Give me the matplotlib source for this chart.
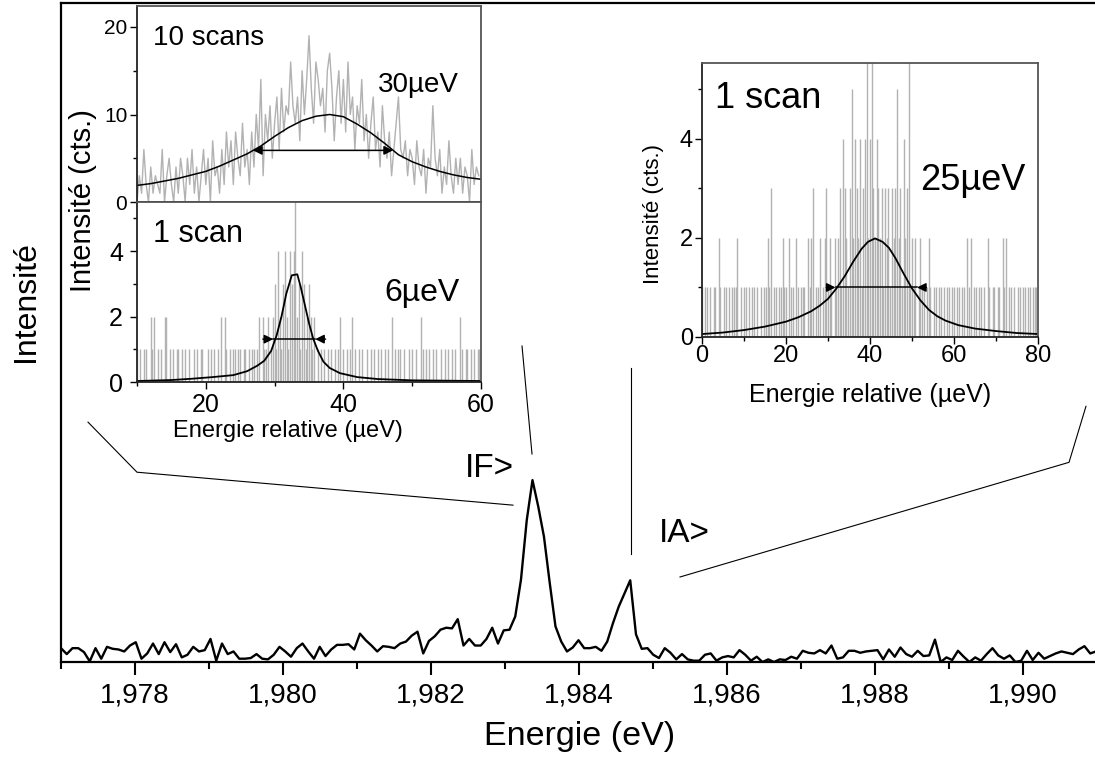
import numpy as np
import matplotlib
matplotlib.use("Agg")
import matplotlib.pyplot as plt
from matplotlib.ticker import MultipleLocator, FuncFormatter

plt.rcParams['font.family'] = ['Liberation Sans', 'DejaVu Sans']

W, H = 1095, 759

# --- spectre principal (unités arbitraires) ---
e_debut = 1.977
e_pas = 0.0000777
intensite = [
    2.1, 1.2, 2.1, 2.1, 1.5, 0.1, 2.1, 0.5, 2.3, 2.0,
    1.9, 1.6, 2.5, 3.0, 0.5, 1.3, 2.8, 1.2, 3.0, 1.5,
    2.7, 0.7, 1.1, 2.3, 1.6, 1.8, 3.5, 0.2, 2.8, 1.2,
    1.6, 0.5, 0.5, 0.6, 1.2, 0.5, 0.4, 1.1, 2.3, 1.6,
    0.8, 2.1, 2.8, 1.6, 0.5, 2.3, 0.9, 1.9, 2.6, 2.6,
    2.7, 1.9, 4.3, 3.3, 2.5, 1.6, 2.4, 2.3, 2.1, 2.8,
    3.1, 4.0, 4.6, 1.3, 3.2, 3.9, 4.9, 5.2, 5.1, 6.5,
    2.5, 3.5, 2.5, 2.5, 3.5, 5.2, 2.8, 4.8, 4.9, 6.9,
    12.5, 21.5, 27.6, 23.6, 19.0, 12.0, 5.4, 3.1, 1.6, 2.2,
    3.3, 2.1, 2.1, 2.3, 1.7, 3.1, 5.9, 8.4, 10.4, 12.4,
    4.2, 2.0, 2.1, 1.1, 0.6, 2.1, 1.4, 0.4, 1.2, 0.4,
    0.2, 0.2, 1.1, 1.3, 0.2, 0.7, 0.9, 0.7, 1.8, 1.1,
    0.2, 0.8, 0.0, 0.4, 0.0, 0.4, 0.3, 0.8, 0.5, 1.7,
    1.4, 1.3, 1.8, 1.3, 2.5, 0.5, 0.7, 1.7, 1.7, 1.4,
    1.6, 1.7, 1.8, 0.4, 1.9, 0.8, 2.2, 1.2, 0.8, 1.7,
    0.9, 1.0, 3.4, 0.0, 0.7, 0.3, 1.7, 0.8, 0.0, 0.7,
    0.2, 1.2, 2.1, 1.0, 0.5, 1.0, 0.0, 0.2, 1.7, 0.3,
    1.4, 0.5, 0.9, 1.3, 1.6, 1.4, 1.2, 1.9, 2.4, 1.3,
    1.6, 1.3,
]
energie = e_debut + e_pas * np.arange(len(intensite))

# --- encart 10 scans ---
scan10_pas = 0.5
scan10 = [
    0, 3, 1, 6, 2, 0, 4, 1, 3, 2,
    1, 6, 0, 3, 5, 2, 0, 4, 1, 5,
    3, 0, 5, 2, 6, 1, 4, 0, 3, 6,
    2, 5, 0, 7, 3, 4, 1, 6, 2, 8,
    4, 7, 2, 8, 5, 3, 9, 4, 6, 2,
    8, 4, 10, 6, 14, 3, 10, 7, 11, 5,
    9, 12, 6, 13, 8, 11, 10, 16, 11, 9,
    12, 7, 15, 10, 14, 19, 13, 9, 16, 14,
    11, 13, 8, 15, 17, 13, 7, 12, 15, 9,
    14, 8, 16, 10, 12, 6, 11, 9, 14, 7,
    10, 5, 9, 12, 6, 8, 4, 11, 7, 5,
    8, 3, 6, 9, 12, 6, 5, 7, 3, 6,
    5, 2, 7, 4, 3, 6, 1, 5, 4, 11,
    5, 3, 6, 1, 4, 2, 7, 3, 1, 5,
    2, 5, 1, 4, 3, 0, 6, 2, 4, 3,
]
fit10_x = [0, 3, 6, 9, 12, 15, 18, 21, 24, 27, 30, 33, 36, 39, 42, 45, 48, 51, 54, 57, 60, 63, 66, 69, 72, 75]
fit10_y = [1.9, 2.1, 2.4, 2.7, 3.1, 3.5, 4.1, 4.8, 5.5, 6.4, 7.5, 8.5, 9.3, 9.8, 10.0, 9.75, 8.9, 7.9, 6.7, 5.4,
           4.6, 4.0, 3.5, 3.1, 2.8, 2.6]

# --- encart 1 scan (IF) ---
scanF_debut = 10
scanF_pas = 0.25
scanF = [
    1, 0, 1, 0, 1, 1, 0, 0, 2, 1,
    2, 0, 1, 0, 1, 0, 2, 2, 0, 1,
    0, 1, 0, 1, 1, 0, 1, 0, 1, 0,
    1, 0, 0, 1, 0, 1, 0, 1, 1, 0,
    0, 1, 0, 1, 0, 1, 0, 1, 0, 2,
    0, 2, 1, 0, 1, 0, 1, 1, 0, 1,
    1, 0, 1, 1, 0, 1, 0, 1, 1, 0,
    1, 2, 0, 2, 1, 1, 2, 0, 1, 2,
    3, 1, 4, 2, 1, 3, 4, 2, 1, 4,
    3, 4, 6, 2, 3, 1, 4, 3, 1, 2,
    3, 2, 1, 2, 0, 1, 0, 1, 0, 1,
    0, 1, 0, 1, 0, 1, 0, 1, 2, 0,
    1, 0, 1, 0, 1, 2, 0, 1, 0, 1,
    0, 1, 0, 0, 1, 0, 1, 0, 1, 0,
    1, 0, 1, 0, 1, 0, 1, 0, 2, 0,
    1, 0, 1, 1, 0, 1, 0, 0, 1, 0,
    1, 0, 1, 0, 0, 2, 1, 0, 1, 0,
    1, 0, 1, 0, 1, 0, 0, 1, 0, 1,
    0, 1, 0, 1, 0, 1, 0, 0, 2, 1,
    0, 1, 1, 0, 1, 0, 1, 0, 1, 1,
]
fitF_x = [10, 15, 18, 21, 24, 26, 27.5, 28.5, 29.5, 30.3, 31, 31.7, 32.5, 33.3, 33.8, 34.4, 35, 35.6, 36.3,
          37.1, 38, 39.5, 42, 45, 50, 55, 60]
fitF_y = [0.03, 0.06, 0.10, 0.15, 0.21, 0.33, 0.50, 0.65, 0.95, 1.43, 2.0, 2.7, 3.26, 3.29, 2.9, 2.35, 1.8, 1.33,
          0.95, 0.62, 0.43, 0.27, 0.15, 0.09, 0.05, 0.04, 0.03]

# --- encart 1 scan (IA) ---
scanA_pas = 0.4
scanA = [
    1, 0, 1, 1, 0, 1, 0, 1, 1, 0,
    2, 1, 0, 1, 1, 0, 1, 0, 1, 1,
    1, 2, 0, 1, 0, 1, 1, 0, 1, 0,
    1, 1, 0, 1, 0, 1, 0, 1, 1, 2,
    1, 3, 0, 1, 1, 0, 1, 1, 2, 1,
    1, 0, 2, 1, 1, 0, 2, 1, 0, 1,
    1, 1, 0, 2, 1, 2, 3, 0, 1, 1,
    2, 0, 1, 2, 3, 1, 2, 1, 0, 2,
    1, 2, 3, 1, 4, 3, 2, 1, 3, 5,
    2, 4, 3, 2, 4, 1, 3, 4, 6, 2,
    4, 6, 3, 2, 4, 3, 2, 3, 1, 3,
    2, 3, 1, 3, 2, 3, 5, 2, 3, 1,
    4, 2, 3, 6, 1, 2, 1, 2, 0, 1,
    2, 1, 1, 0, 1, 2, 1, 0, 1, 1,
    0, 1, 1, 0, 1, 0, 1, 1, 0, 1,
    1, 0, 1, 1, 0, 1, 1, 0, 2, 1,
    2, 0, 1, 1, 0, 1, 1, 0, 1, 0,
    2, 1, 0, 1, 1, 0, 1, 1, 0, 2,
    1, 2, 0, 1, 1, 0, 1, 0, 1, 1,
    0, 1, 1, 0, 1, 1, 0, 1, 1, 1,
]
fitA_x = [0, 5, 10, 15, 20, 23, 26, 28, 30, 32, 34, 36, 38, 39.5, 41.2, 43, 44.5, 46, 48, 50, 52, 54, 56, 58,
          61, 65, 70, 75, 80]
fitA_y = [0.06, 0.09, 0.14, 0.21, 0.31, 0.40, 0.52, 0.63, 0.77, 0.98, 1.23, 1.52, 1.78, 1.92, 1.99, 1.92, 1.80,
          1.60, 1.28, 0.98, 0.74, 0.55, 0.42, 0.33, 0.24, 0.17, 0.12, 0.08, 0.06]

gris = '#b2b2b2'


def rect(x0, y0, x1, y1):
    # position d'un axe donnée en pixels (haut-gauche, bas-droite)
    return [x0 / W, 1 - y1 / H, (x1 - x0) / W, (y1 - y0) / H]


fig = plt.figure(figsize=(W / 100, H / 100), dpi=100)

# ---------- axe principal ----------
ax = fig.add_axes(rect(61, 3, 61 + 1036, 662))
ax.plot(energie, intensite, color='black', lw=1.7)
ax.set_xlim(1.977, 1.991)
ax.set_ylim(0, 100)
ax.set_yticks([])
ax.xaxis.set_major_locator(MultipleLocator(0.002))
ax.xaxis.set_minor_locator(MultipleLocator(0.001))
ax.xaxis.set_major_formatter(FuncFormatter(lambda v, p: f"{v:.3f}".replace('.', ',')))
ax.tick_params(axis='x', which='major', direction='out', length=9.5, width=1.5, labelsize=20, pad=5)
ax.tick_params(axis='x', which='minor', direction='out', length=5, width=1.5)
for s in ['left', 'bottom', 'top']:
    ax.spines[s].set_linewidth(1.6)
ax.spines['right'].set_visible(False)

# traits de renvoi vers les encarts
traits = [
    ([1.977365, 1.978027, 1.983108], [36.4, 28.8, 23.8]),
    ([1.985365, 1.990622, 1.990851], [12.9, 30.3, 38.8]),
    ([1.98323, 1.983365], [47.95, 31.56]),
    ([1.984703, 1.984703], [44.6, 16.4]),
]
for tx, ty in traits:
    ax.plot(tx, ty, color='black', lw=0.8)
ax.text(1.982459, 28.07, 'IF>', fontsize=24, va='baseline')
ax.text(1.985081, 18.2, 'IA>', fontsize=24, va='baseline')

fig.text(580 / W, 1 - 745 / H, 'Energie (eV)', fontsize=24.5, ha='center', va='baseline')
fig.text(26 / W, 1 - 302 / H, 'Intensité', fontsize=23, rotation=90, ha='center', va='center')


def style_encart(a, size, pad_x, pad_y):
    a.tick_params(which='both', direction='out', width=1, labelsize=size)
    a.tick_params(which='major', length=5)
    a.tick_params(which='minor', length=3)
    a.tick_params(axis='x', pad=pad_x)
    a.tick_params(axis='y', pad=pad_y)
    for s in ['left', 'bottom']:
        a.spines[s].set_linewidth(1.3)
        a.spines[s].set_color('#222222')
    for s in ['top', 'right']:
        a.spines[s].set_linewidth(1.3)
        a.spines[s].set_color('#555555')


# ---------- encart haut gauche : 10 scans ----------
a1 = fig.add_axes(rect(137, 6, 481, 202))
a1.plot(scan10_pas * np.arange(len(scan10)), scan10, color=gris, lw=1.0)
a1.plot(fit10_x, fit10_y, color='black', lw=1.1)
a1.annotate('', xy=(25.3, 5.9), xytext=(55.8, 5.9),
            arrowprops=dict(arrowstyle='<|-|>', color='black', lw=1.1, mutation_scale=13, shrinkA=0, shrinkB=0))
a1.set_xlim(0, 75)
a1.set_ylim(0, 22.4)
a1.yaxis.set_major_locator(MultipleLocator(10))
a1.yaxis.set_minor_locator(MultipleLocator(5))
style_encart(a1, 15, 2, 2)
a1.tick_params(axis='x', which='both', bottom=False, labelbottom=False)
a1.text(0.0465, 0.801, '10 scans', transform=a1.transAxes, fontsize=20, va='baseline')
a1.text(0.7006, 0.561, '30µeV', transform=a1.transAxes, fontsize=20, va='baseline')

# ---------- encart bas gauche : 1 scan, 6 µeV ----------
a2 = fig.add_axes(rect(137, 202, 481, 382))
a2.vlines(scanF_debut + scanF_pas * np.arange(len(scanF)), 0, scanF, color=gris, lw=1.0)
a2.plot(fitF_x, fitF_y, color='black', lw=1.3)
a2.plot([29.8, 35.9], [1.31, 1.31], color='black', lw=1.1)
for xa, xb in [(28.3, 29.8), (37.4, 35.9)]:
    a2.annotate('', xy=(xb, 1.31), xytext=(xa, 1.31),
                arrowprops=dict(arrowstyle='-|>', color='black', lw=1.1, mutation_scale=13, shrinkA=0, shrinkB=0))
a2.set_xlim(10, 60)
a2.set_ylim(0, 5.5)
a2.xaxis.set_major_locator(MultipleLocator(20))
a2.xaxis.set_minor_locator(MultipleLocator(10))
a2.yaxis.set_major_locator(MultipleLocator(2))
a2.yaxis.set_minor_locator(MultipleLocator(1))
style_encart(a2, 18, 3, 5)
a2.text(0.0465, 0.778, '1 scan', transform=a2.transAxes, fontsize=22, va='baseline')
a2.text(0.72, 0.45, '6µeV', transform=a2.transAxes, fontsize=23, va='baseline')
fig.text(288 / W, 1 - 437 / H, 'Energie relative (µeV)', fontsize=17, ha='center', va='baseline')
fig.text(83 / W, 1 - 201 / H, 'Intensité (cts.)', fontsize=21, rotation=90, ha='center', va='center')

# ---------- encart droit : 1 scan, 25 µeV ----------
a3 = fig.add_axes(rect(702, 63, 1038, 337))
a3.vlines(scanA_pas * np.arange(len(scanA)), 0, scanA, color=gris, lw=1.0)
a3.plot(fitA_x, fitA_y, color='black', lw=1.3)
a3.plot([31.8, 51.2], [1.0, 1.0], color='black', lw=1.1)
for xa, xb in [(29.6, 31.8), (53.4, 51.2)]:
    a3.annotate('', xy=(xb, 1.0), xytext=(xa, 1.0),
                arrowprops=dict(arrowstyle='-|>', color='black', lw=1.1, mutation_scale=13, shrinkA=0, shrinkB=0))
a3.set_xlim(0, 80)
a3.set_ylim(0, 5.53)
a3.xaxis.set_major_locator(MultipleLocator(20))
a3.xaxis.set_minor_locator(MultipleLocator(10))
a3.yaxis.set_major_locator(MultipleLocator(2))
a3.yaxis.set_minor_locator(MultipleLocator(1))
style_encart(a3, 17, 0.5, 1.5)
a3.text(0.0387, 0.836, '1 scan', transform=a3.transAxes, fontsize=26, va='baseline')
a3.text(0.649, 0.536, '25µeV', transform=a3.transAxes, fontsize=26, va='baseline')
fig.text(870 / W, 1 - 402 / H, 'Energie relative (µeV)', fontsize=18, ha='center', va='baseline')
fig.text(654 / W, 1 - 214 / H, 'Intensité (cts.)', fontsize=16, rotation=90, ha='center', va='center')

fig.savefig('out.png', dpi=100)
